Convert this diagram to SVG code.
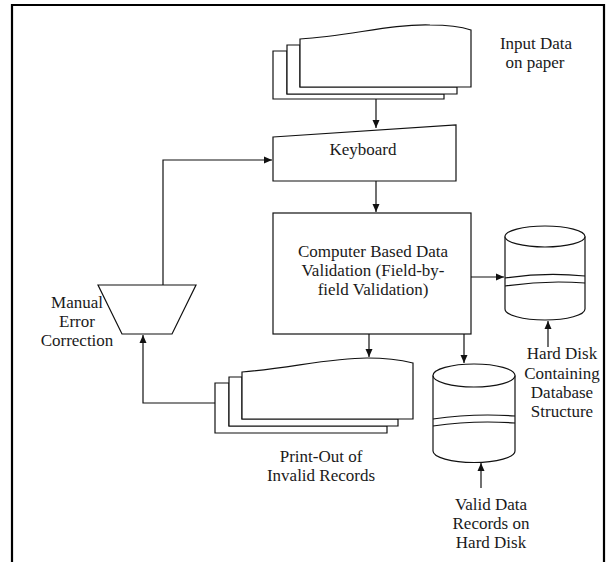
<svg xmlns="http://www.w3.org/2000/svg" width="609" height="562" viewBox="0 0 609 562">
<defs>
<style>
.s{fill:#fff;stroke:#111;stroke-width:1.2;stroke-linejoin:miter}
.c{fill:none;stroke:#111;stroke-width:1.2}
.t{font-family:"Liberation Serif","Times New Roman",serif;font-size:17px;fill:#1a1a1a;text-anchor:middle}
</style>
<marker id="ah" markerUnits="userSpaceOnUse" markerWidth="9" markerHeight="8" refX="8" refY="4" orient="auto">
<path d="M0,0.5 L8,4 L0,7.5 z" fill="#111"/>
</marker>
</defs>
<rect width="609" height="562" fill="#fff"/>
<path d="M12,562 L12,5 L604,5 L604,562" fill="none" stroke="#000" stroke-width="2.2"/>

<g id="input-data">
<path class="s" d="M273,51 L287,51 L287,94 L444,94 L444,99 L273,99 z"/>
<path class="s" d="M287,45 L300,45 L300,87 L457,87 L457,94 L287,94 z"/>
<path class="s" d="M300,39 C350,36 390,24 430,25 C450,25 465,28 471,30 L471,87 L300,87 z"/>
<text class="t" x="536" y="49">Input Data</text>
<text class="t" x="535" y="68">on paper</text>
</g>

<g id="keyboard">
<path class="s" d="M273,137 L456,125 L456,181 L273,181 z"/>
<text class="t" x="363" y="155">Keyboard</text>
</g>

<g id="validation">
<rect class="s" x="273" y="213" width="198" height="121"/>
<text class="t" x="373" y="257">Computer Based Data</text>
<text class="t" x="373" y="276">Validation (Field-by-</text>
<text class="t" x="373" y="295">field Validation)</text>
</g>

<g id="db-structure">
<path class="s" d="M505,236.5 L505,309 A40,11 0 0 0 585,309 L585,236.5"/>
<ellipse class="s" cx="545" cy="236.5" rx="40" ry="10.5"/>
<path class="c" d="M505,278 Q545,272 585,276"/>
<path class="c" d="M505,286 Q545,280 585,283"/>
<text class="t" x="562" y="359">Hard Disk</text>
<text class="t" x="562" y="379">Containing</text>
<text class="t" x="562" y="398">Database</text>
<text class="t" x="562" y="417">Structure</text>
</g>

<g id="valid-records">
<path class="s" d="M433,375.5 L433,451 A41,11.5 0 0 0 515,451 L515,375.5"/>
<ellipse class="s" cx="474" cy="375.5" rx="41" ry="11.5"/>
<path class="c" d="M433,419 Q474,413 515,416"/>
<path class="c" d="M433,426 Q474,420 515,423"/>
<text class="t" x="491" y="510">Valid Data</text>
<text class="t" x="491" y="529">Records on</text>
<text class="t" x="491" y="548">Hard Disk</text>
</g>

<g id="printout">
<path class="s" d="M215,383 L229,383 L229,426 L387,426 L387,433 L215,433 z"/>
<path class="s" d="M229,377 L242,377 L242,419 L398,419 L398,426 L229,426 z"/>
<path class="s" d="M242,372 C290,368 330,358 367,358 C390,358 405,361 413,363 L413,419 L242,419 z"/>
<text class="t" x="321" y="462">Print-Out of</text>
<text class="t" x="321" y="481">Invalid Records</text>
</g>

<g id="manual-correction">
<path class="s" d="M98,285 L196,285 L172,334 L122,334 z"/>
<text class="t" x="77" y="308">Manual</text>
<text class="t" x="77" y="327">Error</text>
<text class="t" x="77" y="346">Correction</text>
</g>

<g id="connectors">
<path class="c" d="M376,99 L376,128" marker-end="url(#ah)"/>
<path class="c" d="M376,181 L376,212" marker-end="url(#ah)"/>
<path class="c" d="M471,277 L504,277" marker-end="url(#ah)"/>
<path class="c" d="M369,334 L369,357" marker-end="url(#ah)"/>
<path class="c" d="M464,334 L464,363" marker-end="url(#ah)"/>
<path class="c" d="M548,347 L548,321" marker-end="url(#ah)"/>
<path class="c" d="M481,488 L481,463" marker-end="url(#ah)"/>
<path class="c" d="M215,403 L143,403 L143,335" marker-end="url(#ah)"/>
<path class="c" d="M163,285 L163,160 L272,160" marker-end="url(#ah)"/>
</g>
</svg>
